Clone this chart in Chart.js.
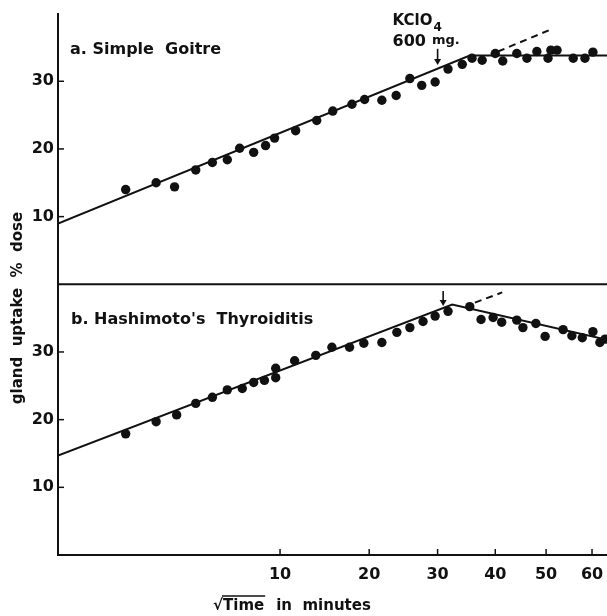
<!DOCTYPE html>
<html>
<head>
<meta charset="utf-8">
<script src="https://cdn.jsdelivr.net/npm/chart.js@4/dist/chart.umd.min.js"></script>
<style>
  html, body { margin: 0; padding: 0; background: #fff; }
</style>
</head>
<body>
<canvas id="chart" width="607" height="616"></canvas>
<script>
// x is time in minutes, plotted on a square-root axis
const goitreMinutes = [0.8, 1.8, 2.6, 3.7, 4.7, 5.7, 6.6, 7.7, 8.7, 9.5, 11.5, 13.7, 15.5, 17.8, 19.4, 21.7, 23.7, 25.7, 27.5, 29.6, 31.7, 34.1, 35.8, 37.6, 40.0, 41.4, 44.1, 46.1, 48.1, 50.4, 51.0, 52.3, 55.8, 58.4, 60.2];
const goitreUptake = [14.0, 15.0, 14.4, 16.9, 18.0, 18.4, 20.1, 19.5, 20.5, 21.6, 22.7, 24.2, 25.6, 26.6, 27.3, 27.2, 27.9, 30.4, 29.4, 29.9, 31.8, 32.5, 33.4, 33.1, 34.1, 33.0, 34.1, 33.4, 34.4, 33.4, 34.6, 34.6, 33.4, 33.4, 34.3];

const hashiMinutes = [0.8, 1.8, 2.7, 3.7, 4.7, 5.7, 6.8, 7.7, 8.6, 9.6, 9.6, 11.4, 13.6, 15.4, 17.5, 19.3, 21.7, 23.8, 25.7, 27.7, 29.6, 31.7, 35.4, 37.4, 39.6, 41.2, 44.1, 45.3, 47.9, 49.8, 53.6, 55.5, 57.8, 60.2, 61.8, 63.0];
const hashiUptake = [17.9, 19.7, 20.7, 22.4, 23.3, 24.4, 24.6, 25.5, 25.8, 27.6, 26.2, 28.7, 29.5, 30.7, 30.7, 31.3, 31.4, 32.9, 33.6, 34.5, 35.3, 36.0, 36.7, 34.8, 35.1, 34.4, 34.7, 33.6, 34.2, 32.3, 33.3, 32.4, 32.1, 33.0, 31.4, 31.9];

// fitted lines (first point sits on the axis, just left of zero)
const goitreFitMinutes = [-0.01, 35.4, 63.5];
const goitreFitUptake = [8.96, 33.8, 33.8];
const goitreExtMinutes = [40.5, 50.8];
const goitreExtUptake = [34.4, 37.6];

const hashiFitMinutes = [-0.01, 32.4, 63.5];
const hashiFitUptake = [14.7, 37.0, 31.8];
const hashiExtMinutes = [36.3, 41.3];
const hashiExtUptake = [37.3, 38.8];

// KClO4 dose arrows: minute, arrow top and tip (uptake units of each panel)
const doseMinutes = [30, 30.9];
const doseArrowTop = [34.8, 39.0];
const doseArrowTip = [32.4, 36.8];

const timeTicks = [10, 20, 30, 40, 50, 60];
const uptakeTicks = [10, 20, 30];

const ink = '#111';
const face = '"DejaVu Sans", sans-serif';
const root = m => Math.sign(m) * Math.sqrt(Math.abs(m));
const pts = (xs, ys) => xs.map((m, i) => ({ x: root(m), y: ys[i] }));

function dots(data, axis) {
  return { data, yAxisID: axis, showLine: false, pointRadius: 4.7, pointHoverRadius: 4.7,
    backgroundColor: ink, borderWidth: 0 };
}
function fit(data, axis, dash) {
  return { data, yAxisID: axis, showLine: true, pointRadius: 0, borderColor: ink,
    borderWidth: 2, borderDash: dash || [], fill: false };
}

function line(ctx, x1, y1, x2, y2) {
  ctx.beginPath(); ctx.moveTo(x1, y1); ctx.lineTo(x2, y2); ctx.stroke();
}

const paperMarks = {
  id: 'paperMarks',
  afterDraw(chart) {
    const { ctx, chartArea: area, scales } = chart;
    const x = scales.x, yT = scales.yTop, yB = scales.yBot;
    ctx.save();
    ctx.strokeStyle = ink;
    ctx.fillStyle = ink;

    // divider between the two panels
    ctx.lineWidth = 2;
    line(ctx, area.left, yT.bottom, area.right, yT.bottom);

    // tick marks
    ctx.lineWidth = 1.5;
    [yT, yB].forEach(s => uptakeTicks.forEach(v => {
      const py = s.getPixelForValue(v);
      line(ctx, area.left - 1, py, area.left + 6, py);
    }));
    timeTicks.forEach(m => {
      const px = x.getPixelForValue(Math.sqrt(m));
      line(ctx, px, area.bottom, px, area.bottom - 6);
    });

    // dose arrows
    [yT, yB].forEach((s, i) => {
      const px = x.getPixelForValue(root(doseMinutes[i]));
      const top = s.getPixelForValue(doseArrowTop[i]);
      const tip = s.getPixelForValue(doseArrowTip[i]);
      ctx.lineWidth = 1.6;
      line(ctx, px, top, px, tip - 4);
      ctx.beginPath();
      ctx.moveTo(px - 3.5, tip - 6);
      ctx.lineTo(px + 3.5, tip - 6);
      ctx.lineTo(px, tip);
      ctx.closePath();
      ctx.fill();
    });

    // panel labels
    ctx.textAlign = 'left';
    ctx.textBaseline = 'alphabetic';
    ctx.font = `bold 16px ${face}`;
    ctx.fillText('a. Simple  Goitre', area.left + 12, yT.getPixelForValue(34.0));
    ctx.fillText('b. Hashimoto\'s  Thyroiditis', area.left + 13, yB.getPixelForValue(34.1));

    // KClO4 note above the first arrow
    const ax = x.getPixelForValue(root(doseMinutes[0]));
    const kx = ax - 45;
    ctx.font = `bold 15px ${face}`;
    ctx.fillText('KClO', kx, 25);
    const kw = ctx.measureText('KClO').width;
    ctx.font = `bold 12px ${face}`;
    ctx.fillText('4', kx + kw + 1, 31);
    ctx.font = `bold 16px ${face}`;
    ctx.fillText('600', kx, 46);
    const sw = ctx.measureText('600').width;
    ctx.font = `bold 13px ${face}`;
    ctx.fillText('mg.', kx + sw + 6, 44);

    // y title
    ctx.save();
    ctx.translate(18, 308);
    ctx.rotate(-Math.PI / 2);
    ctx.textAlign = 'center';
    ctx.textBaseline = 'middle';
    ctx.font = `bold 15px ${face}`;
    ctx.fillText('gland  uptake  %  dose', 0, 0);
    ctx.restore();

    // x title: square-root sign with bar over "Time"
    ctx.font = `bold 15px ${face}`;
    const bx = 213, by = 610;
    ctx.fillText('\u221A', bx, by);
    const rw = ctx.measureText('\u221A').width;
    ctx.fillText('Time', bx + rw, by);
    const tw = ctx.measureText('Time').width;
    ctx.lineWidth = 1.5;
    line(ctx, bx + rw - 1, by - 14, bx + rw + tw + 1, by - 14);
    ctx.fillText('in  minutes', bx + rw + tw + 12, by);

    ctx.restore();
  }
};

const tickFont = { family: face, size: 16, weight: 'bold' };

new Chart(document.getElementById('chart'), {
  type: 'scatter',
  data: {
    datasets: [
      dots(pts(goitreMinutes, goitreUptake), 'yTop'),
      fit(pts(goitreFitMinutes, goitreFitUptake), 'yTop'),
      fit(pts(goitreExtMinutes, goitreExtUptake), 'yTop', [7, 5]),
      dots(pts(hashiMinutes, hashiUptake), 'yBot'),
      fit(pts(hashiFitMinutes, hashiFitUptake), 'yBot'),
      fit(pts(hashiExtMinutes, hashiExtUptake), 'yBot', [7, 5])
    ]
  },
  options: {
    responsive: false,
    animation: false,
    devicePixelRatio: 1,
    layout: { autoPadding: false, padding: { top: 12, right: 0, bottom: 0, left: 0 } },
    plugins: { legend: { display: false }, tooltip: { enabled: false } },
    scales: {
      x: {
        type: 'linear',
        position: 'bottom',
        min: -0.1,
        max: 7.966,
        grid: { display: false, drawTicks: false },
        border: { color: ink, width: 2 },
        ticks: { font: tickFont, color: ink, padding: 10, autoSkip: false, maxRotation: 0,
          callback: v => Math.round(v * v) },
        afterBuildTicks: s => { s.ticks = timeTicks.map(m => ({ value: Math.sqrt(m) })); },
        afterFit: s => { s.height = 61; s.paddingLeft = 0; s.paddingRight = 0; }
      },
      yBot: {
        type: 'linear',
        position: 'left',
        stack: 'panels',
        stackWeight: 1,
        min: 0,
        max: 40,
        grid: { display: false, drawTicks: false },
        border: { color: ink, width: 2 },
        ticks: { font: tickFont, color: ink, padding: 4 },
        afterBuildTicks: s => { s.ticks = uptakeTicks.map(v => ({ value: v })); },
        afterFit: s => { s.width = 58; }
      },
      yTop: {
        type: 'linear',
        position: 'left',
        stack: 'panels',
        stackWeight: 1,
        min: 0,
        max: 40,
        grid: { display: false, drawTicks: false },
        border: { color: ink, width: 2 },
        ticks: { font: tickFont, color: ink, padding: 4 },
        afterBuildTicks: s => { s.ticks = uptakeTicks.map(v => ({ value: v })); },
        afterFit: s => { s.width = 58; }
      }
    }
  },
  plugins: [paperMarks]
});
</script>
</body>
</html>
